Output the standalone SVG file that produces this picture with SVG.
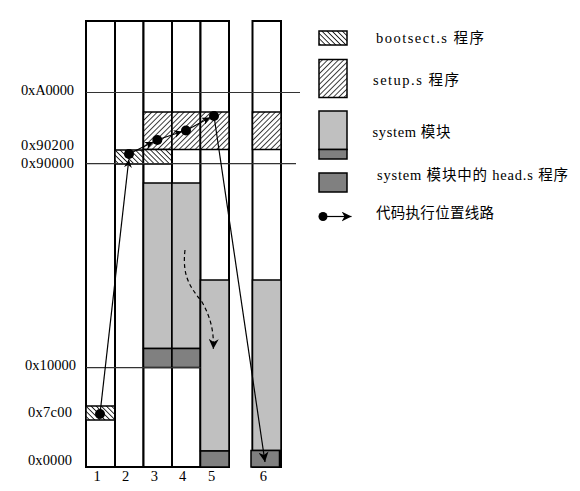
<svg xmlns="http://www.w3.org/2000/svg" width="580" height="491" viewBox="0 0 580 491">
<style>
.col{fill:#fff;stroke:#000;stroke-width:2}
.blk{stroke:#000;stroke-width:1.5}
.gray{fill:#c0c0c0}
.dark{fill:#808080}
.boot{fill:url(#hBoot)}
.setup{fill:url(#hSetup)}
.addr{stroke:#333;stroke-width:1.2}
.lbl{font-family:"Liberation Serif","Noto Sans CJK SC",serif;font-size:14.5px;fill:#000}
.leg{font-family:"Liberation Serif","Noto Sans CJK SC",serif;font-size:14.5px;fill:#000}
.path{stroke:#000;stroke-width:1.2;fill:none}
.dot{fill:#000}
</style>
<defs>
<pattern id="hBoot" width="3.6" height="3.6" patternUnits="userSpaceOnUse" patternTransform="rotate(-45)">
<rect width="3.6" height="3.6" fill="#fff"/>
<line x1="0" y1="0" x2="0" y2="3.6" stroke="#000" stroke-width="1.6"/>
</pattern>
<pattern id="hSetup" width="3.8" height="3.8" patternUnits="userSpaceOnUse" patternTransform="rotate(45)">
<rect width="3.8" height="3.8" fill="#fff"/>
<line x1="0" y1="0" x2="0" y2="3.8" stroke="#000" stroke-width="1.5"/>
</pattern>
<marker id="arr" viewBox="0 0 10 10" refX="10" refY="5" markerWidth="8" markerHeight="8" markerUnits="userSpaceOnUse" orient="auto">
<path d="M0,0 L10,5 L0,10 L3,5 z" fill="#000"/>
</marker>
<marker id="arrBig" viewBox="0 0 10 10" refX="10" refY="5" markerWidth="10" markerHeight="10" markerUnits="userSpaceOnUse" orient="auto">
<path d="M0,0 L10,5 L0,10 L3,5 z" fill="#000"/>
</marker>
</defs>

<g id="col1">
<rect class="col" x="86" y="21" width="29" height="446"/>
<rect class="blk boot" x="86" y="406" width="29" height="14"/>
</g>
<g id="col2">
<rect class="col" x="115" y="21" width="28.5" height="446"/>
<rect class="blk boot" x="115" y="150" width="28.5" height="14"/>
</g>
<g id="col3">
<rect class="col" x="143.5" y="21" width="28.5" height="446"/>
<rect class="blk setup" x="143.5" y="112" width="28.5" height="37.5"/>
<rect class="blk boot" x="143.5" y="149.5" width="28.5" height="14.5"/>
<rect class="blk gray" x="143.5" y="183" width="28.5" height="165.5"/>
<rect class="blk dark" x="143.5" y="348.5" width="28.5" height="19"/>
</g>
<g id="col4">
<rect class="col" x="172" y="21" width="28.5" height="446"/>
<rect class="blk setup" x="172" y="112" width="28.5" height="37.5"/>
<rect class="blk gray" x="172" y="183" width="28.5" height="165.5"/>
<rect class="blk dark" x="172" y="348.5" width="28.5" height="19"/>
</g>
<g id="col5">
<rect class="col" x="200.5" y="21" width="28.5" height="446"/>
<rect class="blk setup" x="200.5" y="112" width="28.5" height="37.5"/>
<rect class="blk gray" x="200.5" y="280" width="28.5" height="171"/>
<rect class="blk dark" x="200.5" y="451" width="28.5" height="16"/>
</g>
<g id="col6">
<rect class="col" x="252.5" y="21" width="28.5" height="446"/>
<rect class="blk setup" x="252.5" y="112" width="28.5" height="37.5"/>
<rect class="blk gray" x="252.5" y="280" width="28.5" height="170.5"/>
<rect class="blk dark" x="251" y="450.5" width="28.5" height="16.5"/>
</g>

<g id="address-lines">
<line class="addr" x1="86" y1="92.5" x2="300" y2="92.5"/>
<line class="addr" x1="86" y1="163.7" x2="296" y2="163.7"/>
<line class="addr" x1="86" y1="367.7" x2="200.5" y2="367.7"/>
</g>

<g id="address-labels">
<text class="lbl" x="74" y="95" text-anchor="end" textLength="53" lengthAdjust="spacing">0xA0000</text>
<text class="lbl" x="74" y="150" text-anchor="end" textLength="53" lengthAdjust="spacing">0x90200</text>
<text class="lbl" x="74" y="168" text-anchor="end" textLength="53" lengthAdjust="spacing">0x90000</text>
<text class="lbl" x="76" y="370" text-anchor="end" textLength="51" lengthAdjust="spacing">0x10000</text>
<text class="lbl" x="72" y="417" text-anchor="end" textLength="44" lengthAdjust="spacing">0x7c00</text>
<text class="lbl" x="72" y="465" text-anchor="end" textLength="44" lengthAdjust="spacing">0x0000</text>
</g>

<g id="column-numbers">
<text class="lbl" x="97" y="481" text-anchor="middle">1</text>
<text class="lbl" x="125.7" y="481" text-anchor="middle">2</text>
<text class="lbl" x="154.3" y="481" text-anchor="middle">3</text>
<text class="lbl" x="182.7" y="481" text-anchor="middle">4</text>
<text class="lbl" x="211.7" y="481" text-anchor="middle">5</text>
<text class="lbl" x="263.3" y="481" text-anchor="middle">6</text>
</g>

<g id="connectors">
<line class="path" x1="100" y1="414" x2="128.8" y2="159.5" marker-end="url(#arr)"/>
<line class="path" x1="129" y1="154" x2="153" y2="142" marker-end="url(#arr)"/>
<line class="path" x1="157" y1="140" x2="182" y2="131.5" marker-end="url(#arr)"/>
<line class="path" x1="186" y1="130.5" x2="210" y2="117.5" marker-end="url(#arr)"/>
<line class="path" x1="214" y1="116" x2="265" y2="462" marker-end="url(#arrBig)"/>
<path class="path" d="M185,250 C182,276 190,287 202,302 C211,318 214,332 213.3,349" stroke-dasharray="4,3" marker-end="url(#arrBig)"/>
<circle class="dot" cx="100" cy="414" r="5"/>
<circle class="dot" cx="129" cy="154" r="5"/>
<circle class="dot" cx="157.3" cy="140" r="5"/>
<circle class="dot" cx="186" cy="130.5" r="5"/>
<circle class="dot" cx="214" cy="116" r="5"/>
</g>

<g id="legend-bootsect">
<rect class="blk boot" x="319" y="31" width="28" height="14"/>
<text class="leg" x="376" y="43" textLength="108" lengthAdjust="spacing">bootsect.s 程序</text>
</g>
<g id="legend-setup">
<rect class="blk setup" x="319" y="59.5" width="28" height="38"/>
<text class="leg" x="373" y="85" textLength="86" lengthAdjust="spacing">setup.s 程序</text>
</g>
<g id="legend-system">
<rect class="blk gray" x="319" y="111" width="28" height="38.5"/>
<rect class="blk dark" x="319" y="149.5" width="28" height="9.5"/>
<text class="leg" x="372.5" y="137" textLength="78" lengthAdjust="spacing">system 模块</text>
</g>
<g id="legend-head">
<rect class="blk dark" x="319" y="173" width="28" height="19"/>
<text class="leg" x="377" y="180" textLength="191" lengthAdjust="spacing">system 模块中的 head.s 程序</text>
</g>
<g id="legend-path">
<line class="path" x1="323" y1="216.5" x2="351.5" y2="216.5" marker-end="url(#arrBig)"/>
<circle class="dot" cx="323" cy="216.5" r="4.5"/>
<text class="leg" x="376" y="218" textLength="118" lengthAdjust="spacing">代码执行位置线路</text>
</g>
</svg>
